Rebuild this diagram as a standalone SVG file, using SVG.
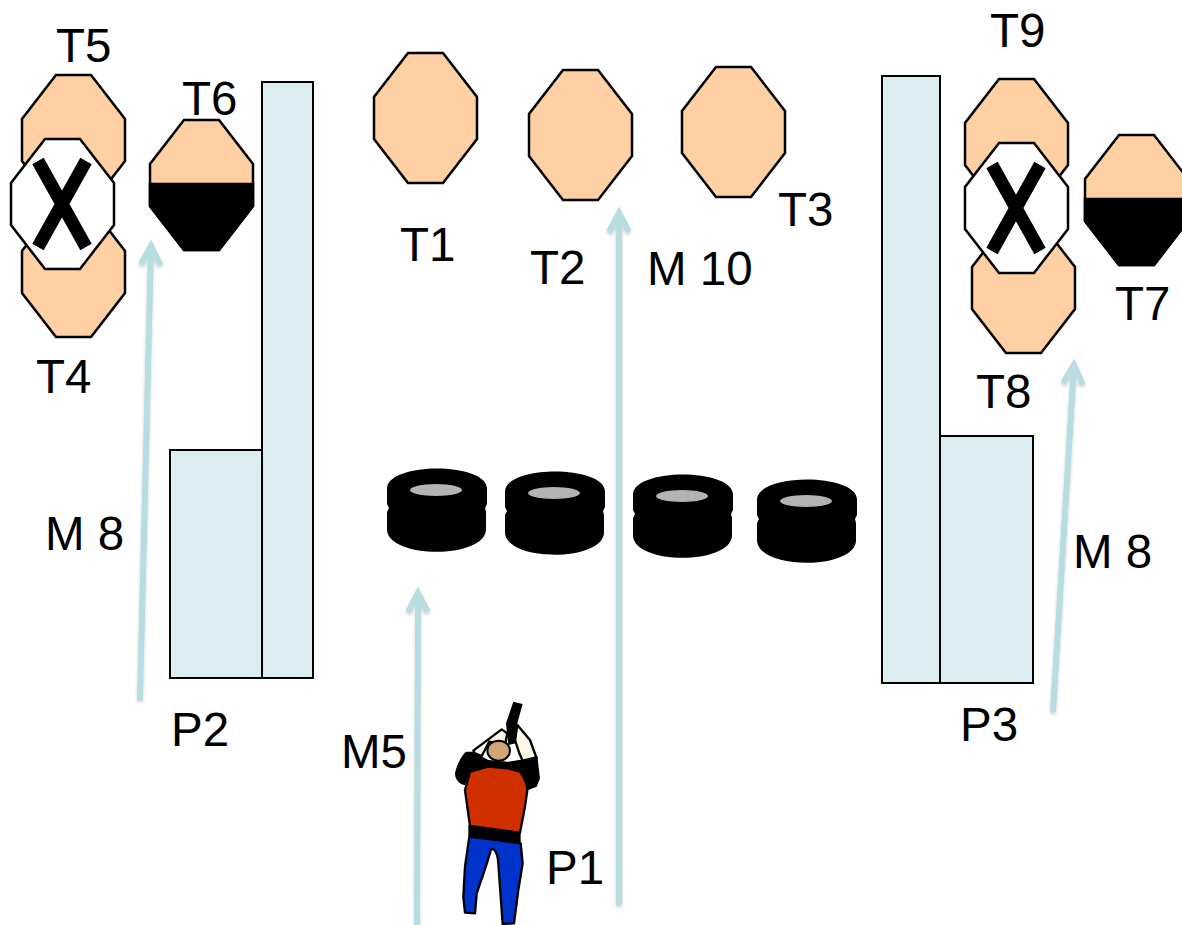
<svg xmlns="http://www.w3.org/2000/svg" width="1182" height="925" viewBox="0 0 1182 925">
<style>
.t{font-family:"Liberation Sans",Arial,sans-serif;font-size:47.5px;fill:#000}
.o{fill:#fed0a3;stroke:#000;stroke-width:2.5;stroke-linejoin:miter}
.x{fill:#fff;stroke:#000;stroke-width:2.5}
.h{fill:#000;stroke:#000;stroke-width:2.5}
.xm{stroke:#000;stroke-width:13;fill:none}
.w{fill:#dcedf1;stroke:#000;stroke-width:2}
.a{stroke:#b7dde1;stroke-width:6;fill:none;marker-end:url(#ah)}
.b{stroke:#000;stroke-width:7;stroke-linejoin:round}
</style>
<defs>
<polygon id="oct" points="34,0 69,0 103,44 103,86 69,130 34,130 0,86 0,44"/>
<marker id="ah" markerUnits="userSpaceOnUse" markerWidth="30" markerHeight="30" refX="22" refY="12" orient="auto"><path d="M3,2 L22,12 L3,22" fill="none" stroke="#b7dde1" stroke-width="6"/></marker>
<filter id="sh" x="-50%" y="-5%" width="200%" height="110%"><feDropShadow dx="0" dy="2" stdDeviation="1.5" flood-color="#000" flood-opacity="0.2"/></filter>
<g id="tire">
<path d="M0,20 C2,-6 98,-6 100,20 L100,36 L98,40 L99,44 L99,62 C97,91 2,91 0,62 L0,44 L2,40 L0,36 Z" fill="#000"/>
<ellipse cx="49" cy="22" rx="26" ry="6" fill="#b3b3b3"/>
</g>
</defs>
<g id="wall-p2"><rect class="w" x="170" y="450" width="92" height="228"/><rect class="w" x="262" y="82" width="51" height="596"/></g>
<g id="wall-p3"><rect class="w" x="940" y="436" width="93" height="247"/><rect class="w" x="882" y="76" width="58" height="607"/></g>
<g id="T5"><use href="#oct" class="o" x="22" y="75"/></g>
<g id="T4"><use href="#oct" class="o" x="22" y="207"/></g>
<g id="X1"><use href="#oct" class="x" x="11" y="139"/><path class="xm" d="M38,161 L86,247 M86,161 L38,247"/></g>
<g id="T6"><use href="#oct" class="o" x="150" y="120"/><path class="h" d="M150,184 H253 V206 L219,250 H184 L150,206 Z"/></g>
<g id="T1"><use href="#oct" class="o" x="374" y="53"/></g>
<g id="T2"><use href="#oct" class="o" x="529" y="70"/></g>
<g id="T3"><use href="#oct" class="o" x="682" y="67"/></g>
<g id="T9"><use href="#oct" class="o" x="965" y="79"/></g>
<g id="T8"><use href="#oct" class="o" x="972" y="223"/></g>
<g id="X2"><use href="#oct" class="x" x="965" y="143"/><path class="xm" d="M992,165 L1040,251 M1040,165 L992,251"/></g>
<g id="T7"><use href="#oct" class="o" x="1085" y="135"/><path class="h" d="M1085,199 H1188 V221 L1154,265 H1119 L1085,221 Z"/></g>
<g id="tires">
<use href="#tire" x="387" y="468"/><use href="#tire" x="505" y="471"/><use href="#tire" x="633" y="474"/><use href="#tire" x="757" y="479"/>
</g>
<g id="connectors" filter="url(#sh)">
<path class="a" d="M140,700 L151,246"/>
<path class="a" d="M417,925 L418,593"/>
<path class="a" d="M619,905 L619,213"/>
<path class="a" d="M1053,712 L1074,365"/>
</g>
<g id="P1" transform="translate(430,690) scale(0.3333)">
<path class="b" fill="#0033cc" d="M118,440 L272,460 L278,520 L265,600 L252,700 L218,702 L212,620 L205,520 C203,490 195,475 183,478 C175,510 165,540 140,610 L135,670 L105,668 L100,620 L105,530 Z"/>
<path class="b" fill="#d03000" d="M120,245 L175,230 L235,235 L270,245 C285,265 292,285 292,300 L285,350 L270,428 L120,408 L105,300 Z"/>
<path fill="#000" d="M115,406 L272,428 L272,460 L115,438 Z"/>
<path class="b" fill="#fff8e8" d="M130,182 L215,118 L232,130 L225,165 L178,155 L155,198 L135,190 Z"/>
<path class="b" fill="#fff8e8" d="M262,105 L300,150 L320,205 L285,228 L268,190 L255,150 Z"/>
<path fill="#000" d="M75,250 C80,225 95,195 108,185 L130,185 L175,210 L235,215 L280,208 L322,198 L330,265 L320,290 L295,300 L270,245 L235,235 L175,230 L120,245 L105,285 C90,285 75,270 75,250 Z"/>
<path fill="#000" d="M250,35 L278,42 L262,100 L258,160 L235,165 L228,100 Z"/>
<ellipse cx="206" cy="182" rx="34" ry="30" fill="#d2a679" stroke="#000" stroke-width="6"/>
</g>
<g id="labels">
<text class="t" x="56" y="62">T5</text>
<text class="t" x="182" y="115">T6</text>
<text class="t" x="36" y="393">T4</text>
<text class="t" x="400" y="261">T1</text>
<text class="t" x="530" y="284">T2</text>
<text class="t" x="778" y="226">T3</text>
<text class="t" x="647" y="285">M 10</text>
<text class="t" x="990" y="47">T9</text>
<text class="t" x="1115" y="320">T7</text>
<text class="t" x="976" y="408">T8</text>
<text class="t" x="45" y="550">M 8</text>
<text class="t" x="1073" y="568">M 8</text>
<text class="t" x="171" y="746">P2</text>
<text class="t" x="960" y="741">P3</text>
<text class="t" x="341" y="768">M5</text>
<text class="t" x="546" y="884">P1</text>
</g>
</svg>
